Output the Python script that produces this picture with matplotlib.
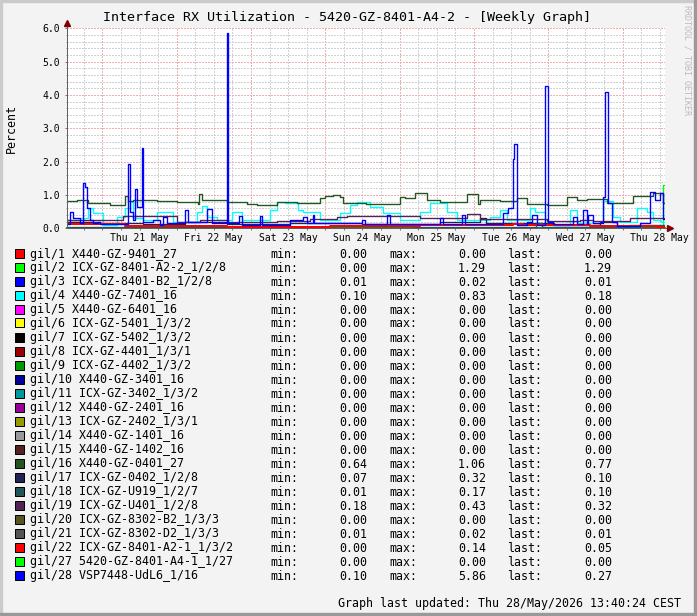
import matplotlib
matplotlib.use("Agg")
import matplotlib.pyplot as plt
from matplotlib.patches import Rectangle
from matplotlib.ticker import MultipleLocator

plt.rcParams['font.family'] = ['DejaVu Sans Mono', 'DejaVu Sans']

W, H = 697, 616

# time axis: hours after Thu 21 May 00:00, graph ends Thu 28 May 13:40
t0, t1 = -11.43, 181.7
day_labels = ['Thu 21 May', 'Fri 22 May', 'Sat 23 May', 'Sun 24 May',
              'Mon 25 May', 'Tue 26 May', 'Wed 27 May', 'Thu 28 May']

names = ['gil/1 X440-GZ-9401_27', 'gil/2 ICX-GZ-8401-A2-2_1/2/8',
         'gil/3 ICX-GZ-8401-B2_1/2/8', 'gil/4 X440-GZ-7401_16',
         'gil/5 X440-GZ-6401_16', 'gil/6 ICX-GZ-5401_1/3/2',
         'gil/7 ICX-GZ-5402_1/3/2', 'gil/8 ICX-GZ-4401_1/3/1',
         'gil/9 ICX-GZ-4402_1/3/2', 'gil/10 X440-GZ-3401_16',
         'gil/11 ICX-GZ-3402_1/3/2', 'gil/12 X440-GZ-2401_16',
         'gil/13 ICX-GZ-2402_1/3/1', 'gil/14 X440-GZ-1401_16',
         'gil/15 X440-GZ-1402_16', 'gil/16 X440-GZ-0401_27',
         'gil/17 ICX-GZ-0402_1/2/8', 'gil/18 ICX-GZ-U919_1/2/7',
         'gil/19 ICX-GZ-U401_1/2/8', 'gil/20 ICX-GZ-8302-B2_1/3/3',
         'gil/21 ICX-GZ-8302-D2_1/3/3', 'gil/22 ICX-GZ-8401-A2-1_1/3/2',
         'gil/27 5420-GZ-8401-A4-1_1/27', 'gil/28 VSP7448-UdL6_1/16']
colors = ['#FF0000', '#00FF00', '#0000FF', '#00FFFF', '#FF00FF', '#FFFF00',
          '#000000', '#990000', '#009900', '#000099', '#009999', '#990099',
          '#999900', '#999999', '#552222', '#225522', '#222255', '#225555',
          '#552255', '#555522', '#555555', '#FF0000', '#00FF00', '#0000FF']
mins = [0.00, 0.00, 0.01, 0.10, 0.00, 0.00, 0.00, 0.00, 0.00, 0.00, 0.00, 0.00,
        0.00, 0.00, 0.00, 0.64, 0.07, 0.01, 0.18, 0.00, 0.01, 0.00, 0.00, 0.10]
maxs = [0.00, 1.29, 0.02, 0.83, 0.00, 0.00, 0.00, 0.00, 0.00, 0.00, 0.00, 0.00,
        0.00, 0.00, 0.00, 1.06, 0.32, 0.17, 0.43, 0.00, 0.02, 0.14, 0.00, 5.86]
lasts = [0.00, 1.29, 0.01, 0.18, 0.00, 0.00, 0.00, 0.00, 0.00, 0.00, 0.00, 0.00,
         0.00, 0.00, 0.00, 0.77, 0.10, 0.10, 0.32, 0.00, 0.01, 0.05, 0.00, 0.27]

# step series: (hour, value)
g2 = [(-11.4, 0.0), (181.1, 1.29), (181.7, 1.29)]
g3 = [(-11.4, 0.02), (90.0, 0.01), (181.7, 0.01)]
g4 = [(-11.4, 0.25), (-7.2, 0.30), (-4.6, 0.60), (-3.0, 0.45), (0.2, 0.10),
      (4.7, 0.35), (7.3, 0.60), (9.0, 0.80), (9.9, 0.30), (13.1, 0.25),
      (17.6, 0.50), (22.7, 0.20), (30.5, 0.50), (32.2, 0.68), (33.8, 0.35),
      (37.0, 0.25), (41.8, 0.50), (45.1, 0.25), (54.1, 0.55), (56.4, 0.80),
      (59.0, 0.77), (63.2, 0.55), (64.8, 0.50), (70.3, 0.25), (76.7, 0.45),
      (80.0, 0.70), (82.2, 0.80), (86.4, 0.65), (90.6, 0.45), (96.1, 0.25),
      (102.6, 0.50), (105.8, 0.77), (111.3, 0.50), (114.5, 0.25), (125.2, 0.35),
      (128.4, 0.55), (130.7, 0.25), (138.1, 0.60), (139.8, 0.50), (143.0, 0.10),
      (151.0, 0.55), (153.3, 0.15), (161.7, 0.83), (164.9, 0.35), (167.2, 0.20),
      (172.6, 0.60), (175.9, 0.50), (177.9, 0.25), (180.5, 0.18), (181.7, 0.18)]
g16 = [(-11.4, 0.81), (-8.1, 0.86), (-4.6, 0.77), (-0.8, 0.75), (2.5, 0.70),
       (7.3, 0.98), (8.3, 0.81), (9.9, 0.85), (17.6, 0.82), (24.1, 0.78),
       (30.9, 0.72), (31.2, 1.02), (32.2, 0.86), (40.3, 0.80), (46.7, 0.73),
       (49.9, 0.70), (56.4, 0.79), (62.8, 0.75), (70.3, 0.90), (71.9, 0.97),
       (74.5, 1.00), (76.7, 0.95), (77.7, 0.75), (85.0, 0.72), (96.1, 0.95),
       (97.7, 0.90), (100.9, 1.05), (104.8, 0.85), (109.0, 0.80), (117.7, 1.02),
       (121.3, 0.73), (122.0, 0.85), (128.4, 0.83), (133.9, 0.90), (137.2, 0.73),
       (143.6, 0.70), (150.1, 0.95), (153.3, 0.85), (156.6, 0.88), (163.0, 0.77),
       (171.4, 0.97), (177.9, 1.06), (181.1, 0.77), (181.7, 0.77)]
g17 = [(-11.4, 0.18), (-0.8, 0.15), (13.1, 0.12), (26.7, 0.20), (40.3, 0.12),
       (60.6, 0.15), (83.9, 0.12), (109.0, 0.18), (122.0, 0.32), (124.0, 0.15),
       (146.0, 0.10), (160.7, 0.20), (166.2, 0.07), (181.7, 0.10)]
g18 = [(-11.4, 0.05), (20.0, 0.03), (60.0, 0.02), (100.0, 0.05), (140.0, 0.17),
       (142.0, 0.04), (170.0, 0.10), (181.7, 0.10)]
g19 = [(-11.4, 0.25), (6.6, 0.37), (24.1, 0.20), (31.5, 0.25), (40.3, 0.20),
       (56.4, 0.22), (67.0, 0.27), (75.8, 0.33), (79.0, 0.37), (102.6, 0.30),
       (117.7, 0.43), (122.0, 0.27), (143.6, 0.22), (154.3, 0.25), (158.5, 0.22),
       (170.4, 0.30), (181.1, 0.32), (181.7, 0.32)]
g21 = [(-11.4, 0.01), (60.0, 0.02), (120.0, 0.01), (181.7, 0.01)]
g22 = [(-11.4, 0.12), (7.3, 0.07), (40.3, 0.05), (73.5, 0.07), (102.6, 0.10),
       (132.6, 0.14), (135.9, 0.10), (157.5, 0.08), (179.0, 0.05), (181.7, 0.05)]
g28 = [(-11.4, 0.12), (-10.5, 0.48), (-9.5, 0.30), (-7.2, 0.15), (-6.3, 1.35),
       (-5.6, 1.25), (-5.0, 0.60), (-4.0, 0.25), (-3.0, 0.15), (-1.4, 0.20),
       (-0.8, 0.12), (8.3, 1.92), (8.9, 0.50), (9.9, 0.25), (10.5, 1.17),
       (11.2, 0.65), (12.8, 2.40), (13.1, 0.20), (16.3, 0.25), (18.6, 0.10),
       (19.6, 0.35), (20.9, 0.15), (26.7, 0.55), (27.7, 0.20), (33.8, 0.58),
       (35.4, 0.15), (40.2, 5.86), (40.6, 0.15), (44.1, 0.38), (45.1, 0.10),
       (50.9, 0.38), (51.6, 0.10), (60.6, 0.25), (64.8, 0.35), (66.1, 0.15),
       (68.0, 0.40), (68.4, 0.15), (83.9, 0.25), (84.8, 0.12), (91.9, 0.40),
       (92.9, 0.12), (109.0, 0.30), (110.0, 0.12), (116.2, 0.40), (117.1, 0.12),
       (129.4, 0.45), (131.0, 0.60), (132.6, 2.07), (133.0, 2.52), (133.9, 0.10),
       (137.1, 0.20), (138.8, 0.40), (140.4, 0.10), (143.0, 4.27), (143.9, 0.20),
       (145.5, 0.12), (152.0, 0.35), (153.3, 0.12), (155.2, 0.55), (156.5, 0.12),
       (156.9, 0.40), (158.5, 0.15), (161.7, 0.95), (162.3, 4.08), (163.3, 0.75),
       (164.6, 0.20), (166.2, 0.08), (173.6, 0.15), (176.9, 1.10), (178.5, 0.85),
       (180.1, 1.05), (181.1, 0.27), (181.7, 0.27)]

series = {1: g2, 2: g3, 3: g4, 15: g16, 16: g17, 17: g18, 18: g19,
          20: g21, 21: g22, 23: g28}


def fxy(x, y):
    return x / W, 1 - y / H


px = 0.72  # one pixel in points at dpi 100

fig = plt.figure(figsize=(W / 100, H / 100), dpi=100, facecolor='#F3F3F3')
ax = fig.add_axes([67 / W, (H - 228.3) / H, 598 / W, 200 / H])
ax.set_facecolor('white')
ax.set_xlim(t0, t1)
ax.set_ylim(0, 6)

# grid like rrdtool: 6h / 0.2 minor, 24h / 1.0 major, dotted
ax.xaxis.set_major_locator(MultipleLocator(24))
ax.xaxis.set_minor_locator(MultipleLocator(6))
ax.yaxis.set_major_locator(MultipleLocator(1))
ax.yaxis.set_minor_locator(MultipleLocator(0.2))
ax.grid(which='minor', color='#D2D2D2', linestyle=(0, (2, 2)), lw=px,
        antialiased=False)
ax.grid(which='major', color='#EDB0B0', linestyle=(0, (2, 2)), lw=px,
        antialiased=False)
ax.set_axisbelow(True)
ax.set_xticklabels([])
ax.yaxis.set_major_formatter('{x:.1f}')
ax.tick_params(axis='y', which='major', labelsize=7, length=2 * px, pad=3.6,
               color='#777777', width=px)
ax.tick_params(axis='y', which='minor', length=1 * px, color='#999999', width=px)
ax.tick_params(axis='x', which='both', length=2 * px, color='#777777', width=px)
for s in ['top', 'right']:
    ax.spines[s].set_visible(False)
for s in ['left', 'bottom']:
    ax.spines[s].set_color('#606060')
    ax.spines[s].set_linewidth(px)

for i, lab in enumerate(day_labels):
    ax.text(12 + 24 * i, -0.047, lab, transform=ax.get_xaxis_transform(),
            ha='center', va='center', fontsize=7)

# flat series at zero first, gil/9 last so its green shows on the base line
zero_idx = [i for i in range(len(names)) if i not in series and i != 8] + [8]
for i in zero_idx:
    ax.plot([t0, t1], [0, 0], color=colors[i], lw=1.5 * px, clip_on=False)
for i in sorted(series):
    xs = [p[0] for p in series[i]]
    ys = [p[1] for p in series[i]]
    lw = 2.0 * px if i == 21 else 1.35 * px
    ax.plot(xs, ys, drawstyle='steps-post', color=colors[i], lw=lw)

# axis arrows
ax.plot([1.0, 1.006], [0, 0], transform=ax.transAxes, color='#606060',
        lw=px, clip_on=False)
ax.plot([1.008], [0], marker='>', ms=4, color='#7F0000',
        transform=ax.transAxes, clip_on=False)
ax.plot([0, 0], [1.0, 1.02], transform=ax.transAxes, color='#606060',
        lw=px, clip_on=False)
ax.plot([0], [1.027], marker='^', ms=4, color='#7F0000',
        transform=ax.transAxes, clip_on=False)

fig.text(*fxy(347, 18), 'Interface RX Utilization - 5420-GZ-8401-A4-2 - [Weekly Graph]',
         ha='center', va='center', fontsize=9.6)
fig.text(*fxy(11, 128), 'Percent', rotation=90, ha='center', va='center',
         fontsize=8.4)
fig.text(*fxy(687, 5), 'RRDTOOL / TOBI OETIKER', rotation=270, ha='center',
         va='top', fontsize=6, color='#BBBBBB')

# legend table
for i, name in enumerate(names):
    yc = 253 + 14 * i
    base = yc + 4.5
    fig.patches.append(Rectangle(fxy(15, yc + 4.5), 9 / W, 9 / H,
                                 transform=fig.transFigure, facecolor=colors[i],
                                 edgecolor='black', lw=px))
    fs = 8.4
    fig.text(*fxy(30, base), name, ha='left', va='baseline', fontsize=fs)
    fig.text(*fxy(270, base), 'min:', ha='left', va='baseline', fontsize=fs)
    fig.text(*fxy(367, base), f'{mins[i]:.2f}', ha='right', va='baseline', fontsize=fs)
    fig.text(*fxy(389, base), 'max:', ha='left', va='baseline', fontsize=fs)
    fig.text(*fxy(486, base), f'{maxs[i]:.2f}', ha='right', va='baseline', fontsize=fs)
    fig.text(*fxy(507, base), 'last:', ha='left', va='baseline', fontsize=fs)
    fig.text(*fxy(612, base), f'{lasts[i]:.2f}', ha='right', va='baseline', fontsize=fs)

fig.text(*fxy(681, 606.5), 'Graph last updated: Thu 28/May/2026 13:40:24 CEST',
         ha='right', va='baseline', fontsize=8.4)

# 3d frame
fig.patches.append(Rectangle((0, 1 - 2 / H), 1, 2 / H, transform=fig.transFigure,
                             color='#CBCBCB'))
fig.patches.append(Rectangle((0, 0), 2 / W, 1, transform=fig.transFigure,
                             color='#CBCBCB'))
fig.patches.append(Rectangle((1 - 3 / W, 0), 3 / W, 1, transform=fig.transFigure,
                             color='#999999'))
fig.patches.append(Rectangle((0, 0), 1, 3 / H, transform=fig.transFigure,
                             color='#999999'))

fig.savefig('out.png', dpi=100, facecolor=fig.get_facecolor())
